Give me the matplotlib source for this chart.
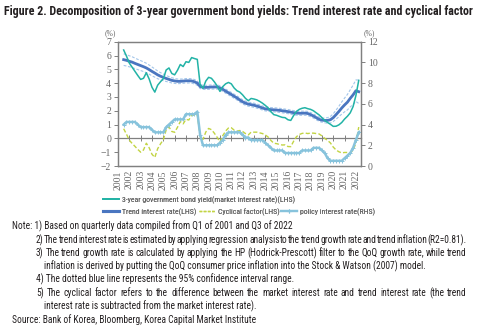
import numpy as np
import matplotlib.pyplot as plt
from matplotlib import font_manager
from matplotlib.lines import Line2D

W, H = 482, 331

# one point per quarter on the year axis
quarters = 2001.5 + 0.25 * np.arange(84)
years = np.arange(2001, 2023)

market_rate = [6.40, 5.95, 5.45, 5.15, 4.85, 4.55, 4.27, 4.35, 4.75, 4.30,
               3.70, 3.35, 3.85, 4.10, 4.32, 4.95, 5.10, 4.70, 4.60, 4.93,
               5.35, 5.20, 5.55, 5.50, 5.85, 5.78, 5.72, 3.90, 3.62, 4.15,
               4.42, 4.35, 4.10, 3.80, 3.40, 3.75, 3.95, 4.05, 3.95, 3.65,
               3.45, 3.35, 3.15, 2.90, 2.73, 2.89, 2.85, 2.79, 2.68, 2.55,
               2.39, 2.21, 1.93, 1.72, 1.67, 1.59, 1.52, 1.50, 1.35, 1.30,
               1.65, 1.95, 2.10, 2.18, 2.22, 2.15, 2.10, 2.00, 1.85, 1.70,
               1.50, 1.30, 1.15, 1.02, 0.87, 0.88, 0.98, 1.15, 1.40, 1.60,
               1.85, 2.30, 3.10, 4.20]

trend_rate = [5.70, 5.65, 5.58, 5.52, 5.43, 5.35, 5.27, 5.19, 5.10, 4.98,
              4.85, 4.73, 4.60, 4.50, 4.42, 4.34, 4.27, 4.20, 4.16, 4.13,
              4.13, 4.15, 4.17, 4.17, 4.16, 4.10, 4.00, 3.76, 3.70, 3.69,
              3.70, 3.72, 3.72, 3.72, 3.66, 3.55, 3.42, 3.30, 3.18, 3.05,
              2.93, 2.78, 2.65, 2.55, 2.48, 2.44, 2.40, 2.34, 2.28, 2.20,
              2.14, 2.11, 2.08, 2.07, 2.05, 2.03, 2.00, 1.97, 1.94, 1.90,
              1.86, 1.83, 1.82, 1.82, 1.83, 1.80, 1.72, 1.62, 1.50, 1.38,
              1.32, 1.30, 1.30, 1.35, 1.50, 1.72, 1.95, 2.20, 2.42, 2.62,
              2.90, 3.15, 3.45, 3.38]

# half width of the 95% band around the trend rate
ci_half = [0.42, 0.41, 0.40, 0.39, 0.38, 0.37, 0.36, 0.35, 0.34, 0.33,
           0.32, 0.30, 0.28, 0.26, 0.24, 0.22, 0.20, 0.19, 0.18, 0.17,
           0.16, 0.16, 0.16, 0.16, 0.16, 0.16, 0.16, 0.15, 0.15, 0.15,
           0.15, 0.15, 0.15, 0.15, 0.15, 0.15, 0.15, 0.15, 0.15, 0.15,
           0.15, 0.15, 0.15, 0.15, 0.15, 0.15, 0.15, 0.15, 0.15, 0.15,
           0.15, 0.15, 0.15, 0.15, 0.15, 0.15, 0.15, 0.15, 0.15, 0.15,
           0.15, 0.15, 0.15, 0.15, 0.15, 0.15, 0.15, 0.15, 0.15, 0.15,
           0.15, 0.17, 0.20, 0.24, 0.28, 0.33, 0.38, 0.44, 0.50, 0.56,
           0.62, 0.70, 0.78, 0.85]

cyclical = [0.70, 0.30, -0.13, -0.37, -0.58, -0.80, -1.00, -0.84, -0.35, -0.68,
            -1.15, -1.38, -0.75, -0.40, -0.10, 0.61, 0.83, 0.50, 0.44, 0.80,
            1.22, 1.05, 1.38, 1.33, 1.69, 1.68, 1.72, 0.14, -0.08, 0.46,
            0.72, 0.63, 0.38, 0.08, -0.26, 0.20, 0.53, 0.75, 0.77, 0.60,
            0.52, 0.57, 0.50, 0.35, 0.25, 0.45, 0.45, 0.45, 0.40, 0.35,
            0.25, 0.10, -0.15, -0.35, -0.38, -0.44, -0.48, -0.47, -0.59, -0.60,
            -0.21, 0.12, 0.28, 0.36, 0.39, 0.35, 0.38, 0.38, 0.35, 0.32,
            0.18, 0.00, -0.15, -0.33, -0.63, -0.84, -0.97, -1.05, -1.02, -1.02,
            -1.05, -0.85, -0.35, 0.82]

policy_rate = [4.00, 4.25, 4.25, 4.25, 4.25, 4.00, 3.75, 3.75, 3.75, 3.75,
               3.50, 3.25, 3.25, 3.25, 3.25, 3.75, 4.00, 4.25, 4.50, 4.50,
               4.50, 4.50, 5.00, 5.00, 5.00, 5.00, 5.25, 3.00, 2.00, 2.00,
               2.00, 2.00, 2.00, 2.00, 2.25, 2.50, 3.00, 3.25, 3.25, 3.25,
               3.25, 3.25, 3.00, 2.75, 2.75, 2.50, 2.50, 2.50, 2.50, 2.50,
               2.25, 2.00, 1.75, 1.50, 1.50, 1.50, 1.50, 1.25, 1.25, 1.25,
               1.25, 1.25, 1.25, 1.50, 1.50, 1.50, 1.50, 1.75, 1.75, 1.75,
               1.50, 1.25, 0.75, 0.50, 0.50, 0.50, 0.50, 0.50, 0.75, 1.00,
               1.25, 1.75, 2.50, 3.25]

labels = ['3-year government bond yield(market interest rate)(LHS)',
          'Trend interest rate(LHS)', 'Cyclical factor(LHS)',
          'policy interest rate(RHS)']

title = ('Figure 2. Decomposition of 3-year government bond yields: '
         'Trend interest rate and cyclical factor')
notes = [
    'Note: 1) Based on quarterly data compiled from Q1 of 2001 and Q3 of 2022',
    '2) The trend interest rate is estimated by applying regression analysis to '
    'the trend growth rate and trend inflation (R2=0.81).',
    '3) The trend growth rate is calculated by applying the HP (Hodrick-Prescott) '
    'filter to the QoQ growth rate, while trend',
    'inflation is derived by putting the QoQ consumer price inflation into the '
    'Stock & Watson (2007) model.',
    '4) The dotted blue line represents the 95% confidence interval range.',
    '5) The cyclical factor refers to the difference between the market interest '
    'rate and trend interest rate (the trend',
    'interest rate is subtracted from the market interest rate).',
    'Source: Bank of Korea, Bloomberg, Korea Capital Market Institute',
]


def pick_font():
    fl = font_manager.fontManager.ttflist
    for name in ('Liberation Sans Narrow', 'Roboto Condensed',
                 'Open Sans Condensed', 'Noto Sans Condensed'):
        if any(f.name == name for f in fl):
            return name, 'normal'
    for f in fl:
        if f.name in ('DejaVu Sans', 'Noto Sans', 'Open Sans', 'Roboto') \
                and f.stretch in ('condensed', 'semi-condensed'):
            return f.name, f.stretch
    return 'Roboto', 'normal'


body_font, body_stretch = pick_font()
plt.rcParams['font.family'] = [body_font, 'DejaVu Sans']
plt.rcParams['font.stretch'] = body_stretch

c_market = '#22b3a6'
c_trend = '#4a76c0'
c_ci = '#a3c6ea'
c_cyc = '#c2d443'
c_policy = '#87c3dc'
grey = '#808080'
tick_txt = '#666666'
tick_font = 'Liberation Serif'

trend = np.array(trend_rate)
half = np.array(ci_half)

fig = plt.figure(figsize=(W / 100, H / 100), dpi=100)
ax = fig.add_axes([118 / W, 1 - 166 / H, (361 - 118) / W, (166 - 41.7) / H])
ax2 = ax.twinx()

ax.plot(quarters, trend + half, color=c_ci, lw=0.8, ls=(0, (2.5, 1.5)))
ax.plot(quarters, trend - half, color=c_ci, lw=0.8, ls=(0, (2.5, 1.5)))
ax.plot(quarters, trend, color=c_trend, lw=2.0)
ax.plot(quarters, market_rate, color=c_market, lw=1.1)
ax.plot(quarters, cyclical, color=c_cyc, lw=1.0, ls=(0, (3, 1.6)))
ax2.plot(quarters, policy_rate, color=c_policy, lw=1.8,
         marker='+', ms=2.6, mew=0.7)

ax.set_xlim(2001, 2022.45)
ax.set_ylim(-2, 7)
ax.set_yticks(range(-2, 8))
ax2.set_ylim(0, 12)
ax2.set_yticks(range(0, 13, 2))

ax.set_xticks(years)
ax.set_xticklabels([str(y) for y in years], rotation=90)
ax.tick_params(axis='x', length=0, pad=3, labelsize=7, labelcolor=tick_txt)
ax.tick_params(axis='y', length=3, width=0.7, color=grey, pad=2,
               labelsize=7, labelcolor=tick_txt)
ax2.tick_params(axis='y', length=3, width=0.7, color=grey, pad=2,
                labelsize=7, labelcolor=tick_txt)
for lab in ax.get_xticklabels() + ax.get_yticklabels() + ax2.get_yticklabels():
    lab.set_family(tick_font)
for a in (ax, ax2):
    for sp in a.spines.values():
        sp.set_color(grey)
        sp.set_linewidth(0.9)

# horizontal axis line at zero with year ticks
zero = ax.secondary_xaxis(2 / 9)
zero.set_xticks(years)
zero.tick_params(direction='inout', length=5, width=0.7, color=grey,
                 labelbottom=False, labeltop=False)
for sp in zero.spines.values():
    sp.set_color(grey)
    sp.set_linewidth(0.9)

fig.text(110 / W, 1 - 33 / H, '(%)', ha='center', va='center', fontsize=5.5,
         color=tick_txt, family=tick_font)
fig.text(369 / W, 1 - 33 / H, '(%)', ha='center', va='center', fontsize=5.5,
         color=tick_txt, family=tick_font)

renderer = fig.canvas.get_renderer()


def text_width(s, size, **kw):
    t = fig.text(0, 0, s, fontsize=size, **kw)
    w = t.get_window_extent(renderer).width
    t.remove()
    return w


def size_for(s, width, **kw):
    return 10 * width / text_width(s, 10, **kw)


def justified(s, x0, x1, y, size, **kw):
    words = s.split(' ')
    widths = [text_width(w, size, **kw) for w in words]
    gap = (x1 - x0 - sum(widths)) / (len(words) - 1)
    x = x0
    for w, wd in zip(words, widths):
        fig.text(x / W, 1 - y / H, w, fontsize=size, va='center', **kw)
        x += wd + gap


# legend entries, placed one by one in two rows under the chart
h_market = Line2D([], [], color=c_market, lw=1.3)
h_trend = Line2D([], [], color=c_trend, lw=2.2)
h_cyc = Line2D([], [], color=c_cyc, lw=1.0, ls=(0, (2, 1)))
h_policy = Line2D([], [], color=c_policy, lw=1.6, marker='+', ms=3, mew=0.8)
leg_size = size_for(labels[0], 172)
em = leg_size * 100 / 72
entries = [(h_market, labels[0], 103, 200), (h_trend, labels[1], 103, 212),
           (h_cyc, labels[2], 199, 212), (h_policy, labels[3], 281, 212)]
for handle, lab, lx, ly in entries:
    leg = fig.legend([handle], [lab], loc='center left',
                     bbox_to_anchor=(lx / W, 1 - ly / H), frameon=False,
                     fontsize=leg_size, labelcolor=tick_txt,
                     handlelength=16 / em, handletextpad=3 / em,
                     borderpad=0, borderaxespad=0)
    fig.add_artist(leg)

title_size = size_for(title, 472, fontweight='bold')
fig.text(4 / W, 1 - 11 / H, title, fontsize=title_size, fontweight='bold',
         va='center', color='#231f20')

# notes: size taken from line 4), full lines spread or squeezed to the margin
note_size = size_for(notes[4], 257)
note_kw = dict(color='#231f20')
rows = [226.5, 239.8, 253.1, 266.4, 279.7, 293.0, 306.3, 319.6]
lefts = [12, 36, 36, 44, 36, 36, 44, 12]
for i, (s, y, x0) in enumerate(zip(notes, rows, lefts)):
    if i in (1, 2, 5):
        justified(s, x0, 467, y, note_size, **note_kw)
    else:
        fig.text(x0 / W, 1 - y / H, s, fontsize=note_size, va='center', **note_kw)

fig.savefig('out.png', dpi=100)
